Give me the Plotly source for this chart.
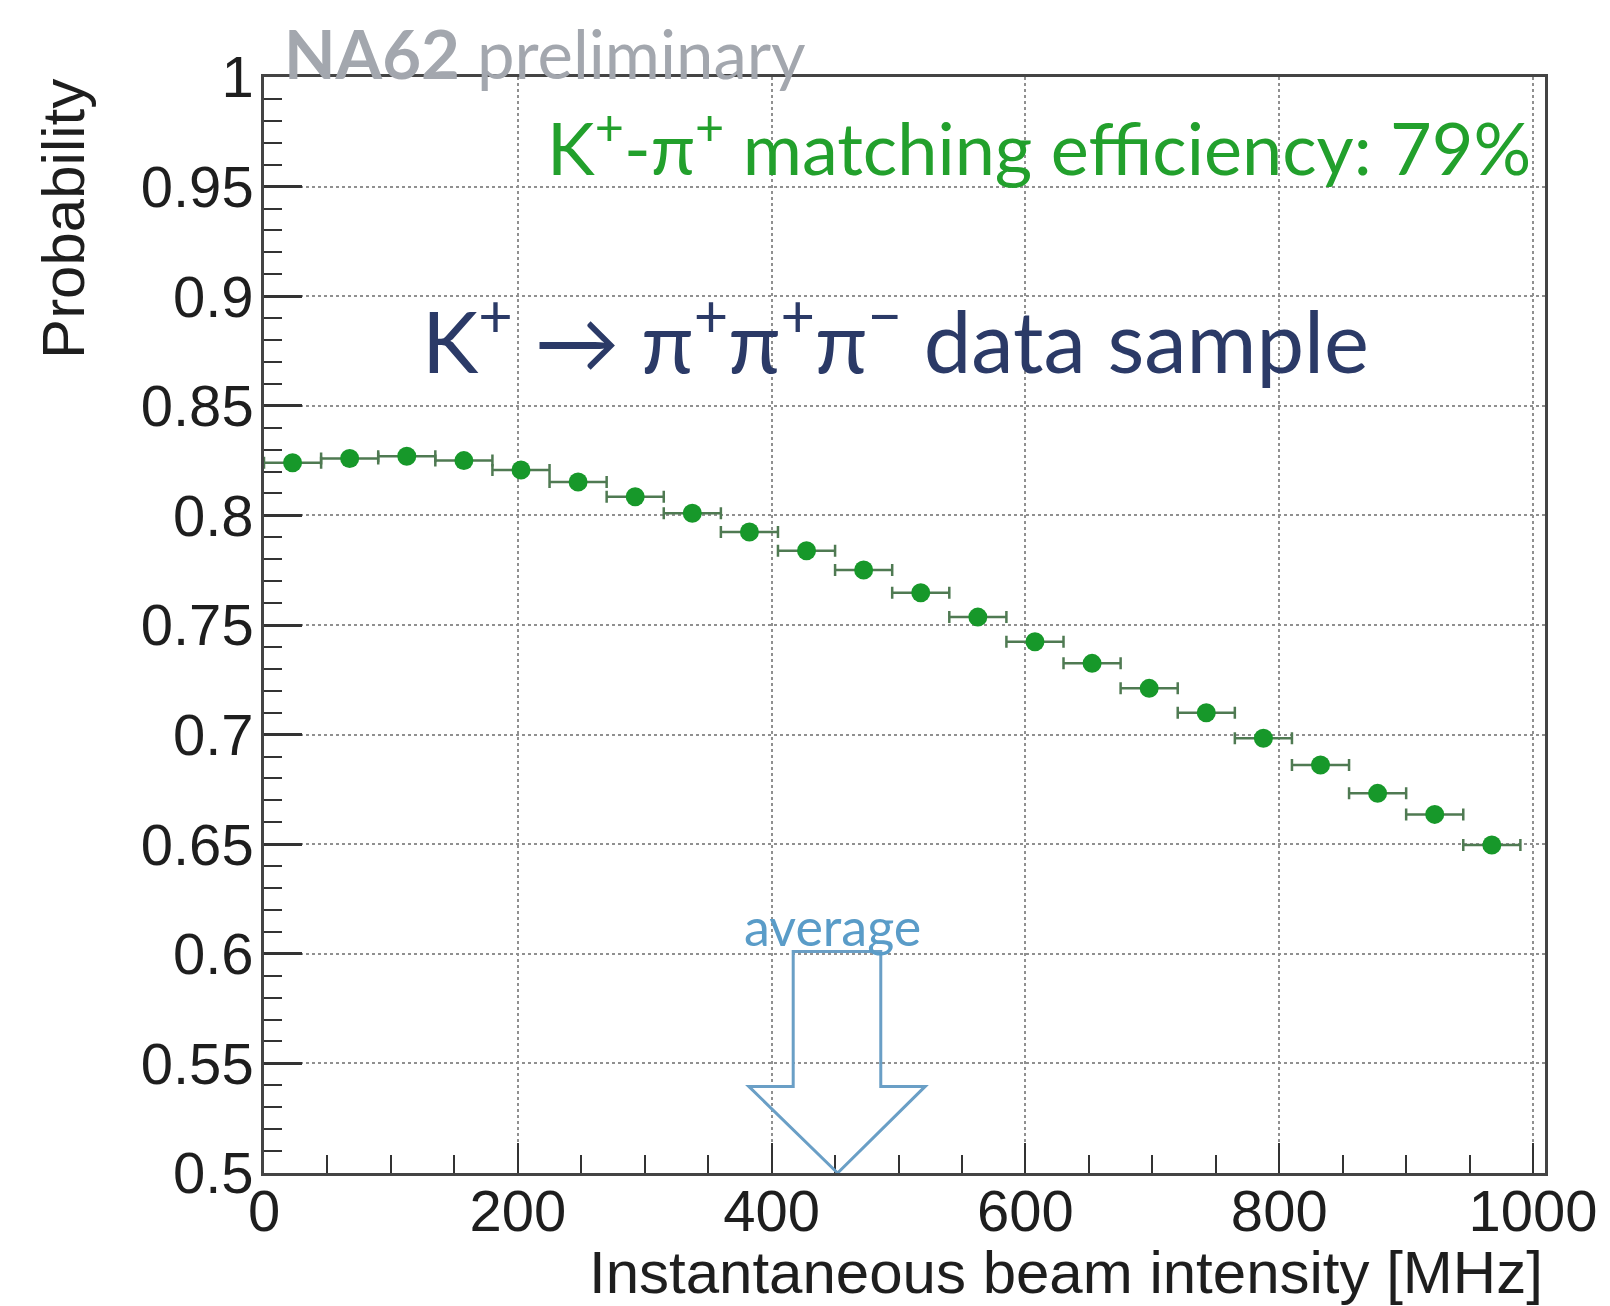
import plotly.graph_objects as go

# ---- data ----
bin_centers = [22.5, 67.5, 112.5, 157.5, 202.5, 247.5, 292.5, 337.5, 382.5, 427.5, 472.5,
               517.5, 562.5, 607.5, 652.5, 697.5, 742.5, 787.5, 832.5, 877.5, 922.5, 967.5]
bin_half_width = [22.5] * len(bin_centers)
probability = [0.824, 0.826, 0.827, 0.825, 0.8207, 0.8152, 0.8085, 0.801, 0.7924, 0.7839, 0.7751,
               0.7647, 0.7536, 0.7424, 0.7325, 0.7211, 0.7100, 0.6983, 0.6861, 0.6732, 0.6636, 0.6496]

x_tick_vals = [0, 200, 400, 600, 800, 1000]
x_tick_text = ["0", "200", "400", "600", "800", "1000"]
y_tick_vals = [0.5, 0.55, 0.6, 0.65, 0.7, 0.75, 0.8, 0.85, 0.9, 0.95, 1.0]
y_tick_text = ["0.5", "0.55", "0.6", "0.65", "0.7", "0.75", "0.8", "0.85", "0.9", "0.95", "1"]

# "average" arrow outline (data coordinates)
arrow_x = [417, 486, 486, 521, 452, 382, 417, 417]
arrow_y = [0.601, 0.601, 0.5395, 0.5395, 0.5, 0.5395, 0.5395, 0.601]

TICK_FONT = dict(family="Liberation Sans, Arial, sans-serif", size=58, color="#1e1e1e")

fig = go.Figure()

fig.add_trace(go.Scatter(
    x=bin_centers, y=probability, mode="markers",
    marker=dict(color="#17982a", size=19, line=dict(width=0)),
    error_x=dict(type="data", array=bin_half_width, symmetric=True,
                 color="#4f7a52", thickness=2.5, width=6),
    showlegend=False,
))

path = "M " + " L ".join(f"{x},{y}" for x, y in zip(arrow_x, arrow_y)) + " Z"
fig.add_shape(type="path", path=path, xref="x", yref="y",
              line=dict(color="#6a9fc6", width=3), fillcolor="rgba(0,0,0,0)")

fig.update_layout(
    width=1610, height=1306, autosize=False,
    margin=dict(l=264, r=57, t=77, b=133),
    paper_bgcolor="white", plot_bgcolor="white",
    xaxis=dict(
        range=[0, 1009.4], tickmode="array", tickvals=x_tick_vals, ticktext=x_tick_text,
        ticks="inside", ticklen=30, tickwidth=2, tickcolor="#333",
        minor=dict(ticks="inside", ticklen=18, tickwidth=2, tickcolor="#333",
                   dtick=50, tick0=0, showgrid=False),
        showgrid=True, gridcolor="#909090", gridwidth=2, griddash="dot",
        showline=True, linecolor="#444", linewidth=2.5, mirror=True,
        tickfont=TICK_FONT, ticklabelstandoff=-14, zeroline=False,
    ),
    yaxis=dict(
        range=[0.5, 1.0], tickmode="array", tickvals=y_tick_vals, ticktext=y_tick_text,
        ticks="inside", ticklen=38, tickwidth=2.5, tickcolor="#333",
        minor=dict(ticks="inside", ticklen=18, tickwidth=2, tickcolor="#333",
                   dtick=0.01, tick0=0.5, showgrid=False),
        showgrid=True, gridcolor="#909090", gridwidth=2, griddash="dot",
        showline=True, linecolor="#444", linewidth=2.5, mirror=True,
        tickfont=TICK_FONT, ticklabelstandoff=-4, zeroline=False,
    ),
    annotations=[
        dict(text="Probability", textangle=-90, xref="paper", yref="paper",
             x=-0.157, y=1.0, xanchor="center", yanchor="top", showarrow=False,
             font=dict(family="Liberation Sans, Arial, sans-serif", size=60, color="#1e1e1e")),
        dict(text="Instantaneous beam intensity [MHz]", xref="paper", yref="paper",
             x=1.0, y=-0.091, xanchor="right", yanchor="middle", showarrow=False,
             font=dict(family="Liberation Sans, Arial, sans-serif", size=60, color="#1e1e1e")),
        dict(text="<b>NA62</b> preliminary", xref="paper", yref="paper",
             x=0.0141, y=1.022, xanchor="left", yanchor="middle", showarrow=False,
             font=dict(family="Lato, sans-serif", size=67, color="#a3a7ae")),
        dict(text="K<sup>+</sup>-π<sup>+</sup> matching efficiency: 79%", xref="paper", yref="paper",
             x=0.9908, y=0.940, xanchor="right", yanchor="middle", showarrow=False,
             font=dict(family="Lato, sans-serif", size=72, color="#22a02c")),
        dict(text="K<sup>+</sup> → π<sup>+</sup>π<sup>+</sup>π<sup>−</sup> data sample", xref="paper", yref="paper",
             x=0.1218, y=0.7655, xanchor="left", yanchor="middle", showarrow=False,
             font=dict(family="Lato, sans-serif", size=85, color="#2b3a67")),
        dict(text="average", xref="paper", yref="paper",
             x=0.4435, y=0.225, xanchor="center", yanchor="middle", showarrow=False,
             font=dict(family="Lato, sans-serif", size=52, color="#5a9cc8")),
    ],
)

fig.write_html("out.html")
